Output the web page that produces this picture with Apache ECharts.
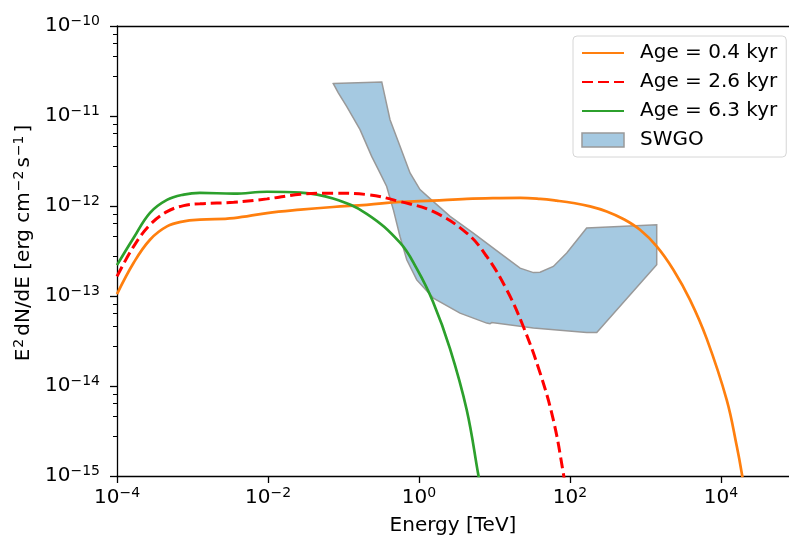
<!DOCTYPE html>
<html>
<head>
<meta charset="utf-8">
<script src="https://cdn.jsdelivr.net/npm/echarts@6/dist/echarts.min.js"></script>
<style>html,body{margin:0;padding:0;background:#fff}#c{width:789px;height:541px}</style>
</head>
<body>
<div id="c"></div>
<script>
// ---- data ----
const seriesNames = ['Age = 0.4 kyr', 'Age = 2.6 kyr', 'Age = 6.3 kyr', 'SWGO'];

const energyOrange = [1e-4, 1.663e-4, 2.735e-4, 4.59e-4, 7.64e-4, 1.256e-3, 3.516e-3, 9.70e-3, 2.69e-2, 7.26e-2, 0.2028, 0.560, 1.531, 4.285, 11.83, 22.0, 40.1, 66.7, 110.6, 184, 306, 508, 845, 1406, 2334, 3882, 6471, 11885, 16144, 18793, 20797];
const fluxOrange = [1.05e-13, 2.34e-13, 4.22e-13, 5.93e-13, 6.75e-13, 7.05e-13, 7.35e-13, 8.35e-13, 9.1e-13, 9.75e-13, 1.03e-12, 1.11e-12, 1.15e-12, 1.20e-12, 1.225e-12, 1.232e-12, 1.20e-12, 1.146e-12, 1.08e-12, 9.9e-13, 8.7e-13, 7.17e-13, 5.44e-13, 3.56e-13, 1.96e-13, 9.07e-14, 3.34e-14, 7.02e-15, 2.15e-15, 1.08e-15, 6e-16];

const energyRed = [1e-4, 1.663e-4, 2.735e-4, 4.59e-4, 7.64e-4, 1.256e-3, 3.516e-3, 9.70e-3, 2.69e-2, 7.26e-2, 0.2028, 0.560, 1.531, 4.285, 7.89, 14.52, 24.04, 40.09, 60.12, 81.47, 88.5];
const fluxRed = [1.65e-13, 3.56e-13, 6.19e-13, 8.65e-13, 1.01e-12, 1.06e-12, 1.10e-12, 1.20e-12, 1.35e-12, 1.39e-12, 1.34e-12, 1.12e-12, 8.7e-13, 5.0e-13, 2.75e-13, 1.17e-13, 4.58e-14, 1.40e-14, 4.2e-15, 1.08e-15, 6.5e-16];

const energyGreen = [1e-4, 1.663e-4, 2.735e-4, 4.59e-4, 7.64e-4, 1.256e-3, 3.516e-3, 9.70e-3, 2.69e-2, 7.26e-2, 0.2028, 0.560, 0.933, 1.531, 2.576, 4.285, 6.10, 6.43];
const fluxGreen = [2.2e-13, 4.43e-13, 8.4e-13, 1.17e-12, 1.34e-12, 1.40e-12, 1.37e-12, 1.44e-12, 1.41e-12, 1.21e-12, 8.2e-13, 3.91e-13, 2.01e-13, 8.63e-14, 2.59e-14, 5.42e-15, 1.03e-15, 8e-16];

const swgoE = [0.0733, 0.321, 0.413, 0.560, 0.760, 1.03, 1.55, 2.58, 5.24, 11.8, 21.8, 32.7, 40.1, 60.1, 90.4, 166, 1406, 1406, 226, 166, 32.7, 9.18, 8.71, 7.88, 3.49, 1.55, 0.933, 0.688, 0.560, 0.457, 0.373, 0.304, 0.236, 0.1655, 0.110, 0.0853];
const swgoF = [2.29e-11, 2.39e-11, 9.1e-12, 4.6e-12, 2.33e-12, 1.52e-12, 1.12e-12, 7.66e-13, 5.0e-13, 3.0e-13, 2.04e-13, 1.82e-13, 1.84e-13, 2.13e-13, 3.0e-13, 5.69e-13, 6.19e-13, 2.22e-13, 3.93e-14, 3.93e-14, 4.4e-14, 5.07e-14, 4.91e-14, 5.0e-14, 6.46e-14, 9.48e-14, 1.51e-13, 2.53e-13, 4.59e-13, 9.1e-13, 1.65e-12, 2.33e-12, 3.56e-12, 7.06e-12, 1.28e-11, 1.81e-11];

const xMin = 1e-4, xMax = Math.pow(10, 4.9);
const yMin = 1e-15, yMax = 1e-10;

// ---- chart ----
const FONT = 'DejaVu Sans';
const pow10Label = v => {
  const e = Math.round(Math.log10(v));
  return '{b|10}{s|' + (e < 0 ? '\u2212' : '') + Math.abs(e) + '}';
};
const rich = {
  b: {fontSize: 20, fontFamily: FONT, color: '#000', lineHeight: 24},
  s: {fontSize: 14, fontFamily: FONT, color: '#000', verticalAlign: 'top', lineHeight: 24}
};
const pairs = (xs, ys) => xs.map((x, i) => [x, ys[i]]);
const hiddenSymbol = {color: 'rgba(0,0,0,0)', borderColor: 'rgba(0,0,0,0)', borderWidth: 0};

const chart = echarts.init(document.getElementById('c'), null, {renderer: 'canvas'});
chart.setOption({
  animation: false,
  backgroundColor: '#fff',
  grid: {left: 117, right: 0, top: 26, bottom: 65, containLabel: false},
  legend: {
    data: [
      {name: seriesNames[0], itemStyle: hiddenSymbol},
      {name: seriesNames[1], itemStyle: hiddenSymbol},
      {name: seriesNames[2], itemStyle: hiddenSymbol},
      {name: seriesNames[3], icon: 'rect', itemStyle: {color: '#a5c9e1', borderColor: '#999', borderWidth: 1.5}}
    ],
    orient: 'vertical',
    left: 573, top: 36,
    padding: [7, 9, 7, 8],
    itemWidth: 42, itemHeight: 14, itemGap: 9,
    textStyle: {fontSize: 20, fontFamily: FONT, color: '#000', lineHeight: 20, padding: [0, 0, 0, 11]},
    borderColor: '#d6d6d6', borderWidth: 1, borderRadius: 4,
    backgroundColor: 'rgba(255,255,255,0.8)'
  },
  xAxis: [{
    type: 'log', logBase: 10, min: xMin, max: xMax, interval: 2,
    position: 'bottom',
    axisLine: {lineStyle: {color: '#000', width: 1.3}},
    axisTick: {length: 7, lineStyle: {color: '#000', width: 1.3}},
    minorTick: {show: false},
    axisLabel: {formatter: pow10Label, rich: rich, margin: 10, showMaxLabel: false},
    splitLine: {show: false},
    name: 'Energy [TeV]', nameLocation: 'middle', nameGap: 40,
    nameTextStyle: {fontSize: 20, fontFamily: FONT, color: '#000'}
  }, {
    type: 'log', logBase: 10, min: xMin, max: xMax, position: 'top',
    axisLine: {lineStyle: {color: '#000', width: 1.3}},
    axisTick: {show: false}, axisLabel: {show: false}, splitLine: {show: false}
  }],
  yAxis: {
    type: 'log', logBase: 10, min: yMin, max: yMax,
    axisLine: {show: true, lineStyle: {color: '#000', width: 1.3}},
    axisTick: {show: true, length: 7, lineStyle: {color: '#000', width: 1.3}},
    minorTick: {show: true, length: 4, lineStyle: {color: '#000', width: 1}},
    axisLabel: {formatter: pow10Label, rich: rich, margin: 17},
    splitLine: {show: false},
    name: '{n0|E}{s|2}{n|dN/dE [erg cm}{s|\u22122}{n|s}{s|\u22121}{n|]}',
    nameLocation: 'middle', nameGap: 75, nameRotate: 90,
    nameTextStyle: {
      fontSize: 20, fontFamily: FONT, color: '#000',
      rich: {
        n0: {fontSize: 20, fontFamily: FONT, color: '#000', lineHeight: 24, padding: [0, 0, 0, 16]},
        n: {fontSize: 20, fontFamily: FONT, color: '#000', lineHeight: 24},
        s: {fontSize: 14, fontFamily: FONT, color: '#000', verticalAlign: 'top', lineHeight: 24, padding: [0, 3, 0, 1]}
      }
    }
  },
  series: [{
    type: 'custom', name: seriesNames[3],
    xAxisIndex: 0, yAxisIndex: 0,
    data: [[swgoE[0], swgoF[0]]],
    itemStyle: {color: '#a5c9e1', borderColor: '#999', borderWidth: 1.5},
    z: 1, clip: true,
    renderItem: (params, api) => {
      const pts = swgoE.map((e, i) => api.coord([e, swgoF[i]]));
      return {type: 'polygon', shape: {points: pts, smooth: 0}, style: {fill: '#a5c9e1', stroke: '#999999', lineWidth: 1.5}};
    }
  }, {
    type: 'line', name: seriesNames[0], data: pairs(energyOrange, fluxOrange),
    symbol: 'none', smooth: 0.4, z: 3, clip: true,
    itemStyle: {color: '#ff7f0e'}, lineStyle: {color: '#ff7f0e', width: 2.7}
  }, {
    type: 'line', name: seriesNames[1], data: pairs(energyRed, fluxRed),
    symbol: 'none', smooth: 0.4, z: 4, clip: true,
    itemStyle: {color: '#ff0000'}, lineStyle: {color: '#ff0000', width: 3, type: [11, 5]}
  }, {
    type: 'line', name: seriesNames[2], data: pairs(energyGreen, fluxGreen),
    symbol: 'none', smooth: 0.4, z: 3, clip: true,
    itemStyle: {color: '#2ca02c'}, lineStyle: {color: '#2ca02c', width: 2.7}
  }]
});
</script>
</body>
</html>
